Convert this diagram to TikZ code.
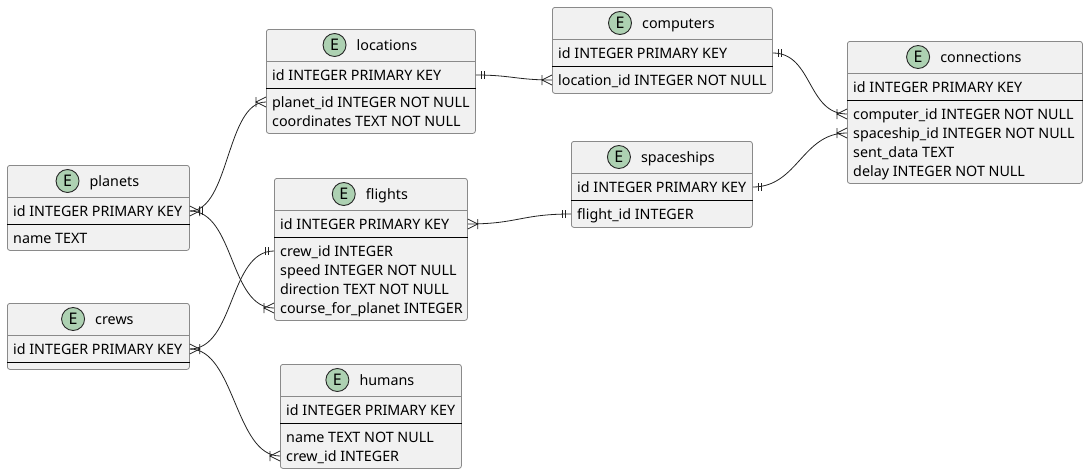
\documentclass[tikz,border=0pt]{standalone}
\usepackage{fontspec}
\setmainfont{Noto Sans}
\usepackage{tikz}
\usetikzlibrary{positioning}

\definecolor{entfill}{HTML}{F1F1F1}
\definecolor{entline}{HTML}{8A8A8A}
\definecolor{ecirc}{HTML}{ADD1B2}
\definecolor{connline}{HTML}{222222}

\tikzset{
  entitybox/.style={draw=entline, fill=entfill, line width=0.8pt, rounded corners=2.5pt, anchor=north west, inner sep=0pt},
  headsep/.style={draw=entline, line width=0.8pt},
  keysep/.style={draw=black, line width=1pt},
  titletext/.style={inner sep=0pt, text height=12pt, text depth=2pt, font=\fontsize{14.3}{17}\selectfont},
  rowtext/.style={anchor=west, inner sep=0pt, text height=12pt, text depth=2pt, font=\fontsize{14.3}{17}\selectfont},
  ecircle/.style={circle, draw=black!85, line width=0.9pt, fill=ecirc, minimum size=23pt, inner sep=0pt, font=\fontsize{16}{16}\selectfont\bfseries},
  conn/.style={draw=connline, line width=0.8pt},
  onemark/.pic={\draw[conn] (6,-4) -- (6,4) (9,-4) -- (9,4);},
  crowmark/.pic={\draw[conn] (0,-5) -- (10,0) -- (0,5) (10,-5) -- (10,5);}
}

\begin{document}
\begin{tikzpicture}[x=1pt,y=-1pt]
\useasboundingbox (0,0) rectangle (1088,474);

\node[entitybox, minimum width=182pt, minimum height=85pt] (planets) at (7,165) {};
\draw[headsep] ([yshift=-32pt]planets.north west) -- ([yshift=-32pt]planets.north east);
\node[titletext] (planets-title) at ([xshift=16pt,yshift=-16pt]planets.north) {planets};
\node[ecircle, left=10pt of planets-title] (planets-e) {E};
\node[rowtext] (planets-id) at ([xshift=6pt,yshift=-46pt]planets.north west) {id INTEGER PRIMARY KEY};
\draw[keysep] ([yshift=-59pt]planets.north west) -- ([yshift=-59pt]planets.north east);
\node[rowtext] (planets-name) at ([xshift=6pt,yshift=-73pt]planets.north west) {name TEXT};

\node[entitybox, minimum width=182pt, minimum height=66pt] (crews) at (7,303) {};
\draw[headsep] ([yshift=-32pt]crews.north west) -- ([yshift=-32pt]crews.north east);
\node[titletext] (crews-title) at ([xshift=16pt,yshift=-16pt]crews.north) {crews};
\node[ecircle, left=10pt of crews-title] (crews-e) {E};
\node[rowtext] (crews-id) at ([xshift=6pt,yshift=-46pt]crews.north west) {id INTEGER PRIMARY KEY};
\draw[keysep] ([yshift=-59pt]crews.north west) -- ([yshift=-59pt]crews.north east);

\node[entitybox, minimum width=209pt, minimum height=104pt] (locations) at (266,29) {};
\draw[headsep] ([yshift=-32pt]locations.north west) -- ([yshift=-32pt]locations.north east);
\node[titletext] (locations-title) at ([xshift=16pt,yshift=-16pt]locations.north) {locations};
\node[ecircle, left=10pt of locations-title] (locations-e) {E};
\node[rowtext] (locations-id) at ([xshift=6pt,yshift=-46pt]locations.north west) {id INTEGER PRIMARY KEY};
\draw[keysep] ([yshift=-59pt]locations.north west) -- ([yshift=-59pt]locations.north east);
\node[rowtext] (locations-planet) at ([xshift=6pt,yshift=-73pt]locations.north west) {planet\_id INTEGER NOT NULL};
\node[rowtext] (locations-coord) at ([xshift=6pt,yshift=-92pt]locations.north west) {coordinates TEXT NOT NULL};

\node[entitybox, minimum width=220pt, minimum height=86pt] (computers) at (552,7) {};
\draw[headsep] ([yshift=-32pt]computers.north west) -- ([yshift=-32pt]computers.north east);
\node[titletext] (computers-title) at ([xshift=16pt,yshift=-16pt]computers.north) {computers};
\node[ecircle, left=10pt of computers-title] (computers-e) {E};
\node[rowtext] (computers-id) at ([xshift=6pt,yshift=-46pt]computers.north west) {id INTEGER PRIMARY KEY};
\draw[keysep] ([yshift=-59pt]computers.north west) -- ([yshift=-59pt]computers.north east);
\node[rowtext] (computers-loc) at ([xshift=6pt,yshift=-73pt]computers.north west) {location\_id INTEGER NOT NULL};

\node[entitybox, minimum width=193pt, minimum height=142pt] (flights) at (274,178) {};
\draw[headsep] ([yshift=-32pt]flights.north west) -- ([yshift=-32pt]flights.north east);
\node[titletext] (flights-title) at ([xshift=16pt,yshift=-16pt]flights.north) {flights};
\node[ecircle, left=10pt of flights-title] (flights-e) {E};
\node[rowtext] (flights-id) at ([xshift=6pt,yshift=-46pt]flights.north west) {id INTEGER PRIMARY KEY};
\draw[keysep] ([yshift=-59pt]flights.north west) -- ([yshift=-59pt]flights.north east);
\node[rowtext] (flights-crew) at ([xshift=6pt,yshift=-73pt]flights.north west) {crew\_id INTEGER};
\node[rowtext] (flights-speed) at ([xshift=6pt,yshift=-92pt]flights.north west) {speed INTEGER NOT NULL};
\node[rowtext] (flights-dir) at ([xshift=6pt,yshift=-111pt]flights.north west) {direction TEXT NOT NULL};
\node[rowtext] (flights-course) at ([xshift=6pt,yshift=-130pt]flights.north west) {course\_for\_planet INTEGER};

\node[entitybox, minimum width=181pt, minimum height=86pt] (spaceships) at (571,141) {};
\draw[headsep] ([yshift=-32pt]spaceships.north west) -- ([yshift=-32pt]spaceships.north east);
\node[titletext] (spaceships-title) at ([xshift=16pt,yshift=-16pt]spaceships.north) {spaceships};
\node[ecircle, left=10pt of spaceships-title] (spaceships-e) {E};
\node[rowtext] (spaceships-id) at ([xshift=6pt,yshift=-46pt]spaceships.north west) {id INTEGER PRIMARY KEY};
\draw[keysep] ([yshift=-59pt]spaceships.north west) -- ([yshift=-59pt]spaceships.north east);
\node[rowtext] (spaceships-flight) at ([xshift=6pt,yshift=-73pt]spaceships.north west) {flight\_id INTEGER};

\node[entitybox, minimum width=181pt, minimum height=104pt] (humans) at (280,364) {};
\draw[headsep] ([yshift=-32pt]humans.north west) -- ([yshift=-32pt]humans.north east);
\node[titletext] (humans-title) at ([xshift=16pt,yshift=-16pt]humans.north) {humans};
\node[ecircle, left=10pt of humans-title] (humans-e) {E};
\node[rowtext] (humans-id) at ([xshift=6pt,yshift=-46pt]humans.north west) {id INTEGER PRIMARY KEY};
\draw[keysep] ([yshift=-59pt]humans.north west) -- ([yshift=-59pt]humans.north east);
\node[rowtext] (humans-name) at ([xshift=6pt,yshift=-73pt]humans.north west) {name TEXT NOT NULL};
\node[rowtext] (humans-crew) at ([xshift=6pt,yshift=-92pt]humans.north west) {crew\_id INTEGER};

\node[entitybox, minimum width=235pt, minimum height=142pt] (connections) at (847,41) {};
\draw[headsep] ([yshift=-32pt]connections.north west) -- ([yshift=-32pt]connections.north east);
\node[titletext] (connections-title) at ([xshift=16pt,yshift=-16pt]connections.north) {connections};
\node[ecircle, left=10pt of connections-title] (connections-e) {E};
\node[rowtext] (connections-id) at ([xshift=6pt,yshift=-46pt]connections.north west) {id INTEGER PRIMARY KEY};
\draw[keysep] ([yshift=-59pt]connections.north west) -- ([yshift=-59pt]connections.north east);
\node[rowtext] (connections-computer) at ([xshift=6pt,yshift=-73pt]connections.north west) {computer\_id INTEGER NOT NULL};
\node[rowtext] (connections-ship) at ([xshift=6pt,yshift=-92pt]connections.north west) {spaceship\_id INTEGER NOT NULL};
\node[rowtext] (connections-data) at ([xshift=6pt,yshift=-111pt]connections.north west) {sent\_data TEXT};
\node[rowtext] (connections-delay) at ([xshift=6pt,yshift=-130pt]connections.north west) {delay INTEGER NOT NULL};

\draw[conn] (planets-id -| planets.east) .. controls +(40,0) and +(-40,0) .. (locations-planet -| locations.west);
\draw[conn] (planets-id -| planets.east) .. controls +(45,0) and +(-45,0) .. (flights-course -| flights.west);
\draw[conn] (crews-id -| crews.east) .. controls +(45,0) and +(-45,0) .. (flights-crew -| flights.west);
\draw[conn] (crews-id -| crews.east) .. controls +(45,0) and +(-45,0) .. (humans-crew -| humans.west);
\draw[conn] (locations-id -| locations.east) .. controls +(35,0) and +(-35,0) .. (computers-loc -| computers.west);
\draw[conn] (flights-id -| flights.east) .. controls +(50,0) and +(-50,0) .. (spaceships-flight -| spaceships.west);
\draw[conn] (computers-id -| computers.east) .. controls +(40,0) and +(-40,0) .. (connections-computer -| connections.west);
\draw[conn] (spaceships-id -| spaceships.east) .. controls +(45,0) and +(-45,0) .. (connections-ship -| connections.west);

\pic at (planets-id -| planets.east) {crowmark};
\pic[xshift=4pt] at (planets-id -| planets.east) {onemark};
\pic[rotate=180] at (locations-planet -| locations.west) {crowmark};
\pic[rotate=180] at (flights-course -| flights.west) {crowmark};
\pic at (crews-id -| crews.east) {crowmark};
\pic[rotate=180] at (flights-crew -| flights.west) {onemark};
\pic[rotate=180] at (humans-crew -| humans.west) {crowmark};
\pic at (locations-id -| locations.east) {onemark};
\pic[rotate=180] at (computers-loc -| computers.west) {crowmark};
\pic at (flights-id -| flights.east) {crowmark};
\pic[rotate=180] at (spaceships-flight -| spaceships.west) {onemark};
\pic at (computers-id -| computers.east) {onemark};
\pic[rotate=180] at (connections-computer -| connections.west) {crowmark};
\pic at (spaceships-id -| spaceships.east) {onemark};
\pic[rotate=180] at (connections-ship -| connections.west) {crowmark};

\end{tikzpicture}
\end{document}
